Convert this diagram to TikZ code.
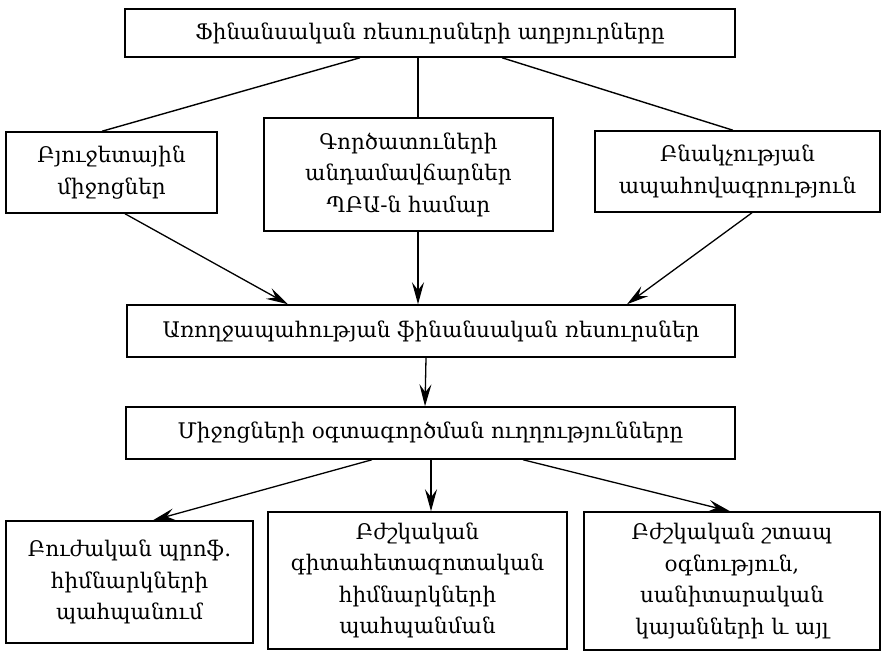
\documentclass[tikz,border=0pt]{standalone}
\usepackage{fontspec}
\setmainfont{DejaVu Serif}
\usetikzlibrary{arrows.meta}
\begin{document}
\begin{tikzpicture}[x=1pt,y=-1pt,
  box/.style={draw, line width=1.5pt, align=center, inner sep=0pt,
    font=\fontsize{21.5}{31.5}\selectfont},
  conn/.style={line width=1.4pt},
  arr/.style={line width=1.3pt, -{Stealth[length=22pt,width=12pt,inset=8pt]}}]
\useasboundingbox[fill=white] (0,0) rectangle (885,655);
\node[box, minimum width=610pt, minimum height=48pt] (top) at (430,33) {Ֆինանսական ռեսուրսների աղբյուրները};
\node[box, minimum width=211pt, minimum height=81pt] (b1) at (111.5,172.5) {Բյուջետային\\միջոցներ};
\node[box, minimum width=289pt, minimum height=113pt] (b2) at (408.5,174.5) {Գործատուների\\անդամավճարներ\\ՊԲԱ-ն համար};
\node[box, minimum width=285pt, minimum height=81pt] (b3) at (737.5,171.5) {Բնակչության\\ապահովագրություն};
\node[box, minimum width=608pt, minimum height=52pt] (b4) at (431,331) {Առողջապահության ֆինանսական ռեսուրսներ};
\node[box, minimum width=609pt, minimum height=52pt] (b5) at (430.5,433) {Միջոցների օգտագործման ուղղությունները};
\node[box, minimum width=247pt, minimum height=122pt] (c1) at (129.5,582) {Բուժական պրոֆ.\\հիմնարկների\\պահպանում};
\node[box, minimum width=299pt, minimum height=137pt] (c2) at (417.5,580.5) {Բժշկական\\գիտահետազոտական\\հիմնարկների\\պահպանման};
\node[box, minimum width=296pt, minimum height=138pt] (c3) at (732,581) {Բժշկական շտապ\\օգնություն,\\սանիտարական\\կայանների և այլ};
% top to sources
\draw[conn] ([xshift=-70pt]top.south) -- ([xshift=-9.5pt]b1.north);
\draw[conn] ([xshift=-12pt]top.south) -- ([xshift=9.5pt]b2.north);
\draw[conn] ([xshift=72pt]top.south) -- ([xshift=-4.5pt]b3.north);
% sources to resources
\draw[arr] ([xshift=13.5pt]b1.south) -- ([xshift=-143pt]b4.north);
\draw[arr] ([xshift=9.5pt]b2.south) -- ([xshift=-13pt]b4.north);
\draw[arr] ([xshift=14.5pt]b3.south) -- ([xshift=196pt]b4.north);
% resources to directions
\draw[arr] ([xshift=-5pt]b4.south) -- ([xshift=-5.5pt]b5.north);
% directions to uses
\draw[arr] ([xshift=-58.5pt]b5.south) -- ([xshift=23.5pt]c1.north);
\draw[arr] ([xshift=0.5pt]b5.south) -- ([xshift=13.5pt]c2.north);
\draw[arr] ([xshift=92.5pt]b5.south) -- ([xshift=-2pt]c3.north);
\end{tikzpicture}
\end{document}
